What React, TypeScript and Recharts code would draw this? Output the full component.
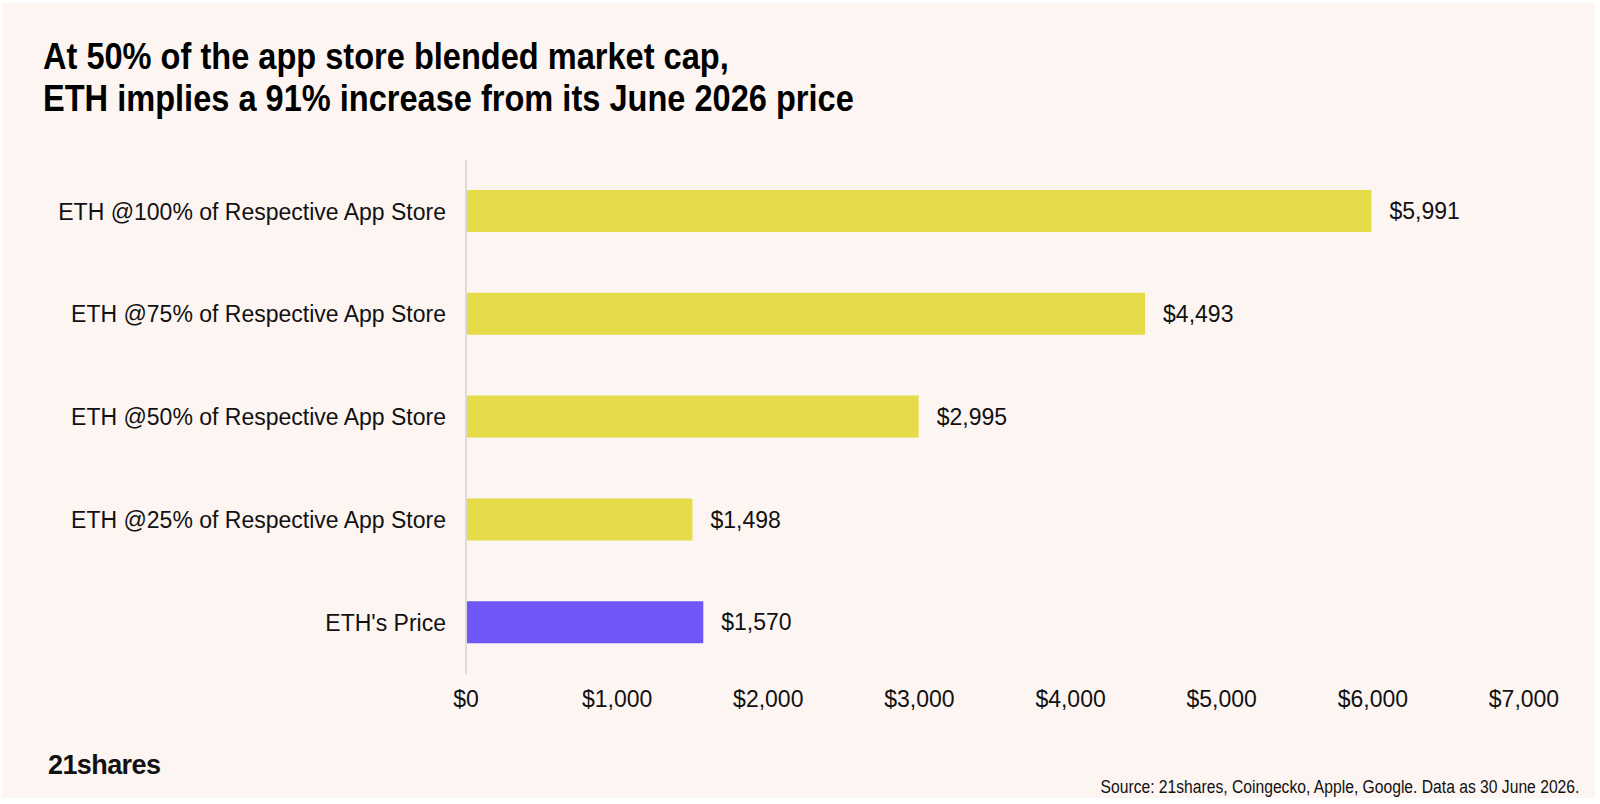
import { Bar, BarChart, Cell, LabelList, XAxis, YAxis } from "recharts";

const C = {
  bg: "#fdf5f2",
  yellow: "#e6dc4a",
  purple: "#6e56f7",
  axis: "#dedad8",
  text: "#111111",
};

const categories = [
  "ETH @100% of Respective App Store",
  "ETH @75% of Respective App Store",
  "ETH @50% of Respective App Store",
  "ETH @25% of Respective App Store",
  "ETH's Price",
];
const values = [5991, 4493, 2995, 1498, 1570];
const barColors = [C.yellow, C.yellow, C.yellow, C.yellow, C.purple];
const xTicks = [0, 1000, 2000, 3000, 4000, 5000, 6000, 7000];

const data = categories.map((name, i) => ({ name, value: values[i] }));

const money = (v: number) => `$${v.toLocaleString("en-US")}`;

const labelFont = { fontFamily: "'Liberation Sans', Arial, sans-serif", fontSize: 23, fill: C.text };

export default function App() {
  return (
    <div style={{ position: "absolute", left: 0, top: 0, width: 1600, height: 804, background: "#ffffff" }}>
      <div style={{ position: "absolute", left: 2, top: 3, width: 1593, height: 795, background: C.bg }} />
      {/* condensed look: no narrow font installed, so squeeze horizontally */}
      <div
        style={{
          position: "absolute",
          left: 43,
          top: 36,
          fontFamily: "'Liberation Sans', Arial, sans-serif",
          fontWeight: 700,
          fontSize: 37,
          lineHeight: "42px",
          color: "#000",
          whiteSpace: "nowrap",
          transform: "scaleX(0.88)",
          transformOrigin: "left top",
        }}
      >
        At 50% of the app store blended market cap,
        <br />
        ETH implies a 91% increase from its June 2026 price
      </div>
      <div style={{ position: "absolute", left: 0, top: 0 }}>
        <BarChart
          width={1600}
          height={804}
          data={data}
          layout="vertical"
          margin={{ top: 160, right: 76, bottom: 100, left: 0 }}
        >
          <XAxis
            type="number"
            domain={[0, 7000]}
            ticks={xTicks}
            tickFormatter={money}
            axisLine={false}
            tickLine={false}
            tickSize={0}
            tickMargin={17}
            tick={labelFont}
          />
          <YAxis
            type="category"
            dataKey="name"
            width={466}
            axisLine={{ stroke: C.axis, strokeWidth: 2 }}
            tickLine={false}
            tickSize={0}
            tickMargin={20}
            tick={labelFont}
          />
          <Bar dataKey="value" barSize={42} isAnimationActive={false}>
            {data.map((d, i) => (
              <Cell key={d.name} fill={barColors[i]} />
            ))}
            <LabelList dataKey="value" position="right" offset={18} formatter={(v: number) => money(v)} style={labelFont} />
          </Bar>
        </BarChart>
      </div>
      <div
        style={{
          position: "absolute",
          left: 48,
          top: 750,
          fontFamily: "'Liberation Sans', Arial, sans-serif",
          fontWeight: 700,
          fontSize: 27,
          letterSpacing: -0.6,
          color: "#111",
        }}
      >
        21shares
      </div>
      <div
        style={{
          position: "absolute",
          right: 21,
          top: 777,
          fontFamily: "'Liberation Sans', Arial, sans-serif",
          fontSize: 18,
          color: "#111",
          whiteSpace: "nowrap",
          transform: "scaleX(0.87)",
          transformOrigin: "right top",
        }}
      >
        Source: 21shares, Coingecko, Apple, Google. Data as 30 June 2026.
      </div>
    </div>
  );
}
